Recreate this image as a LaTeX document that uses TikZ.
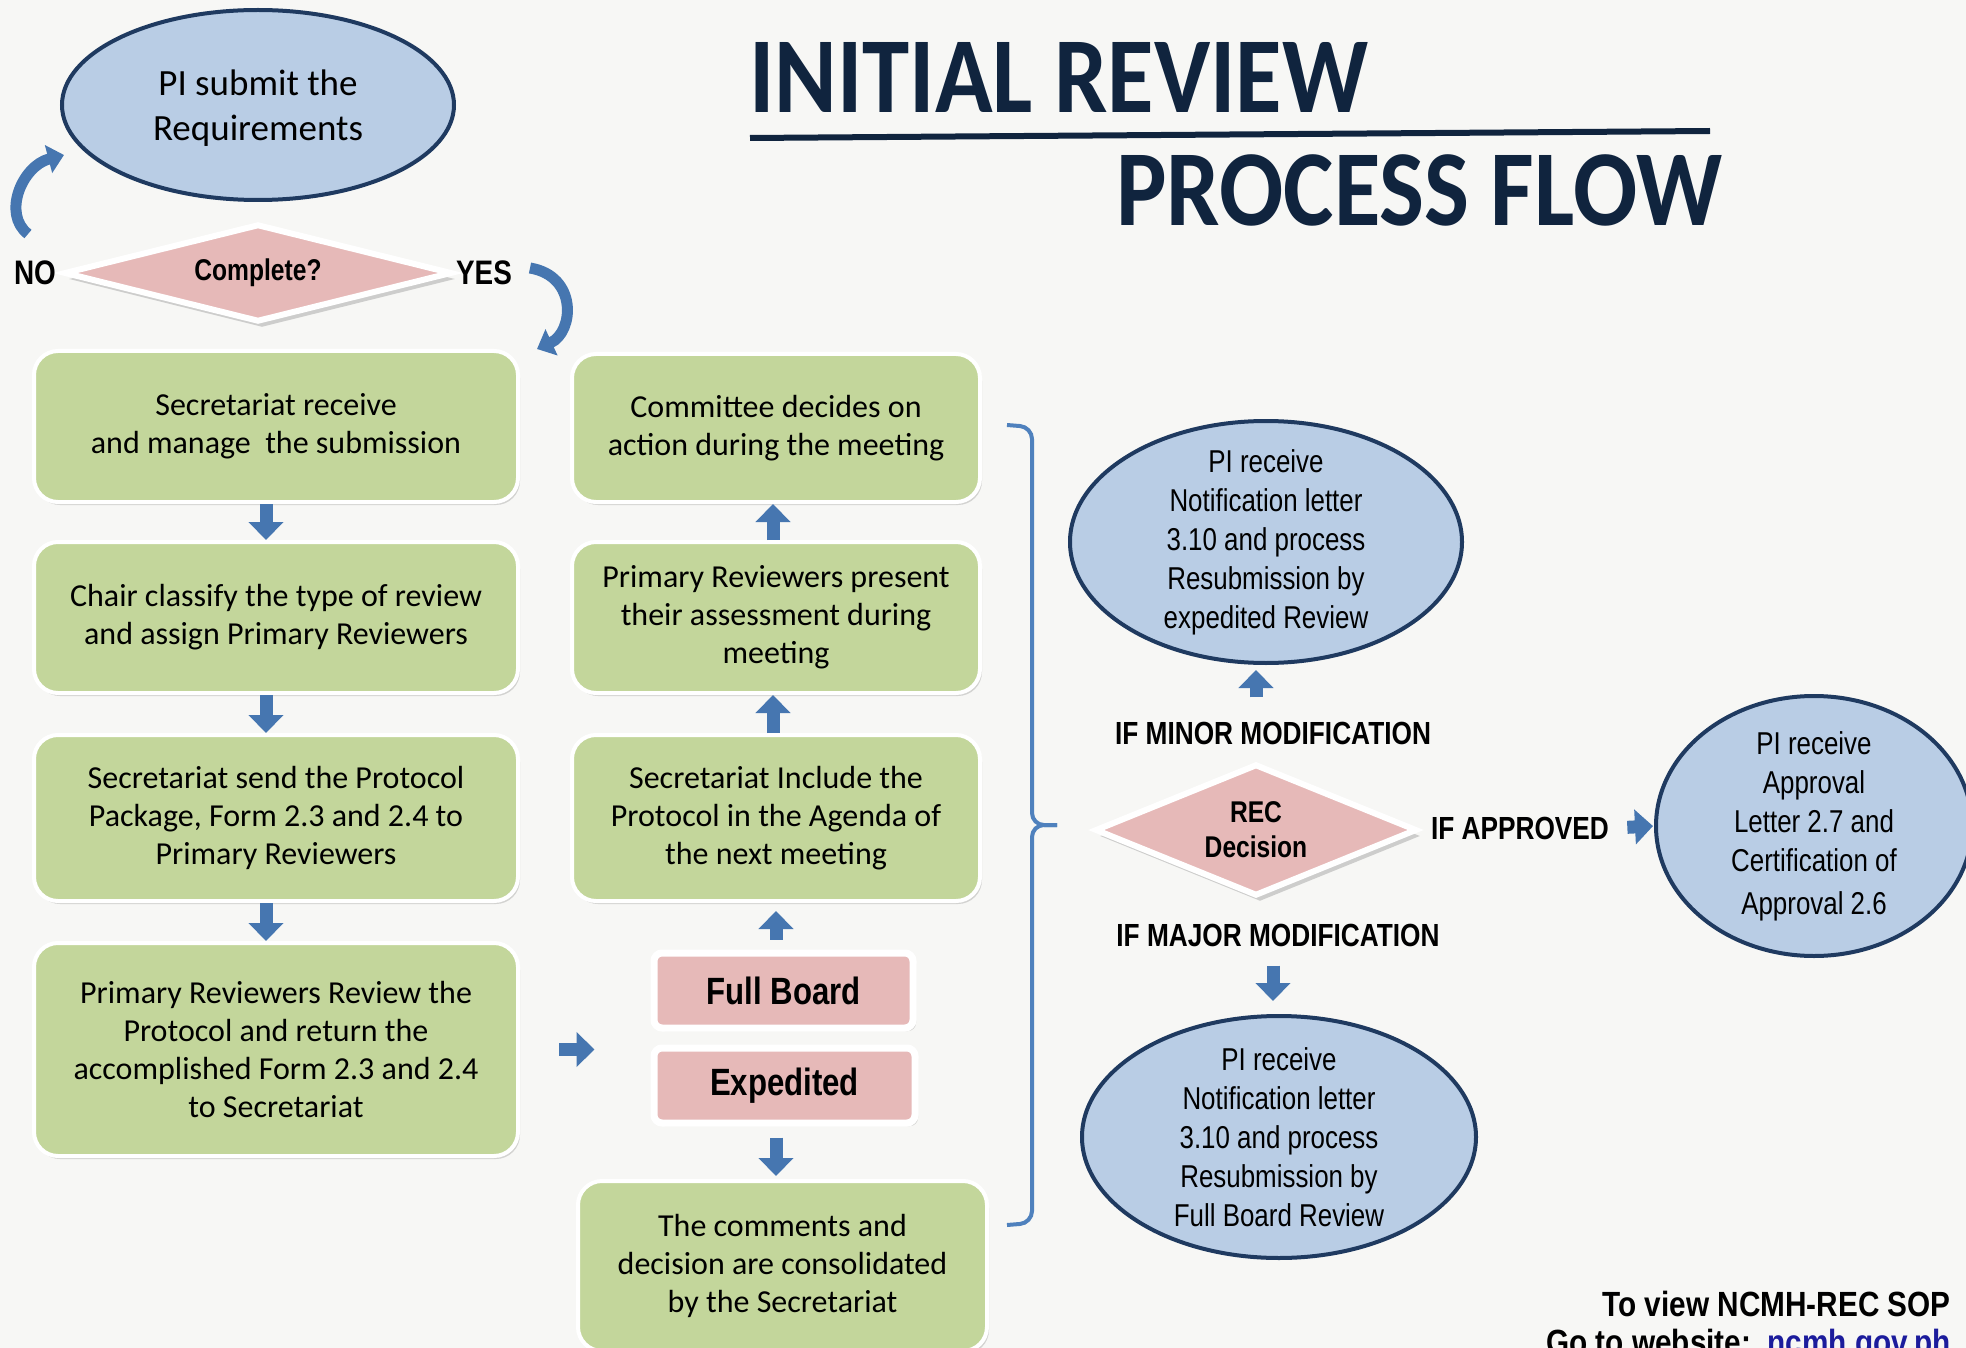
\documentclass[tikz,border=0pt]{standalone}
\usepackage{fontspec}
\setmainfont{Carlito}
\newfontfamily\narrowfont[FakeStretch=0.82]{Liberation Sans}
\newfontfamily\titlefont[FakeStretch=0.88]{Carlito}
\newfontfamily\sopfont[FakeStretch=0.85]{Liberation Sans}
\usetikzlibrary{shapes.geometric,arrows.meta,shadows}

\definecolor{bgpaper}{HTML}{F7F7F5}
\definecolor{boxgreen}{HTML}{C3D69B}
\definecolor{boxpink}{HTML}{E6B9B8}
\definecolor{ellblue}{HTML}{B9CDE5}
\definecolor{ellnavy}{HTML}{1F3A60}
\definecolor{arrowblue}{HTML}{4676B0}
\definecolor{bracketblue}{HTML}{4F81BD}
\definecolor{titlenavy}{HTML}{10243E}
\definecolor{linkblue}{HTML}{1C1C9C}

\tikzset{
  greenbox/.style={rectangle, rounded corners=12pt, fill=boxgreen, draw=white,
    line width=2pt, align=center, inner sep=0pt,
    font=\fontsize{16}{19}\selectfont,
    drop shadow={shadow xshift=1pt, shadow yshift=-1.5pt, opacity=0.3}},
  pinkbox/.style={rectangle, rounded corners=4pt, fill=boxpink, draw=white,
    line width=3.5pt, inner sep=0pt,
    font=\narrowfont\bfseries\fontsize{19}{22}\selectfont,
    drop shadow={shadow xshift=1.5pt, shadow yshift=-1.5pt, opacity=0.3}},
  decision/.style={diamond, fill=boxpink, draw=white, line width=3pt,
    inner sep=0pt, align=center,
    font=\narrowfont\bfseries\fontsize{15}{17.5}\selectfont,
    drop shadow={shadow xshift=2pt, shadow yshift=-3pt, opacity=0.35}},
  pinode/.style={ellipse, fill=ellblue, draw=ellnavy, line width=2pt,
    inner xsep=0pt, inner ysep=-10pt, align=center,
    font=\narrowfont\fontsize{15.8}{19.5}\selectfont},
  branch/.style={font=\narrowfont\bfseries\fontsize{16}{18}\selectfont, inner sep=2pt},
  blockarrow/.style={draw=arrowblue, line width=6.5pt, -{Triangle[width=17pt,length=9pt]}},
  curvearrow/.style={draw=arrowblue, line width=5.5pt, -{Triangle[width=14pt,length=8pt]}},
  bracket/.style={draw=bracketblue, line width=2pt, rounded corners=6pt},
}

\begin{document}
\begin{tikzpicture}[x=0.5pt,y=-0.5pt]
  \fill[bgpaper] (0,0) rectangle (1966,1348);
  \useasboundingbox (0,0) rectangle (1966,1348);

  % title
  \node[anchor=base west, inner sep=0pt, text=titlenavy,
    font=\titlefont\bfseries\fontsize{54}{60}\selectfont] (title1) at (749,113) {INITIAL REVIEW};
  \draw[line width=3pt, titlenavy] (750,138) -- (1710,131);
  \node[anchor=base west, inner sep=0pt, text=titlenavy,
    font=\titlefont\bfseries\fontsize{54}{60}\selectfont] (title2) at (1116,226) {PROCESS FLOW};

  % submission check
  \node[pinode, font=\fontsize{18.5}{22.6}\selectfont, minimum width=196pt, minimum height=95pt,
    text depth=-2pt] (submit) at (258,105) {PI submit the\\Requirements};
  \node[decision, shape aspect=4, minimum width=194pt, minimum height=49pt] (complete) at (258,273) {Complete?};
  \node[branch, font=\narrowfont\bfseries\fontsize{17}{18}\selectfont] (nolbl) at (35,273) {NO};
  \node[branch, font=\narrowfont\bfseries\fontsize{17}{18}\selectfont] (yeslbl) at (484,273) {YES};

  \coordinate (notail) at (28,234);
  \coordinate (nohead) at (64,155);
  \draw[curvearrow] (notail) .. controls (2,214) and (22,166) .. (nohead);
  \coordinate (yestail) at (530,268);
  \coordinate (yeshead) at (537,349);
  \draw[curvearrow] (yestail) .. controls (578,276) and (574,332) .. (yeshead);

  % left column
  \node[greenbox, minimum width=242pt, minimum height=75.5pt] (receive) at (276,426.5)
    {Secretariat receive\\and manage\ \ the submission};
  \node[greenbox, minimum width=242pt, minimum height=75.5pt] (classify) at (276,617.5)
    {Chair classify the type of review\\and assign Primary Reviewers};
  \node[greenbox, minimum width=242pt, minimum height=83pt] (send) at (276,818)
    {Secretariat send the Protocol\\Package, Form 2.3 and 2.4 to\\Primary Reviewers};
  \node[greenbox, minimum width=242pt, minimum height=106.5pt] (review) at (276,1049.5)
    {Primary Reviewers Review the\\Protocol and return the\\accomplished Form 2.3 and 2.4\\to Secretariat};

  \foreach \a/\b in {receive/classify, classify/send, send/review}
    \draw[blockarrow] ([xshift=-5pt]\a.south) -- ([xshift=-5pt]\b.north);

  % middle column
  \node[greenbox, minimum width=204pt, minimum height=74pt] (decide) at (776,428)
    {Committee decides on\\action during the meeting};
  \node[greenbox, minimum width=204pt, minimum height=75.5pt] (present) at (776,617.5)
    {Primary Reviewers present\\their assessment during\\meeting};
  \node[greenbox, minimum width=204pt, minimum height=83pt] (agenda) at (776,818)
    {Secretariat Include the\\Protocol in the Agenda of\\the next meeting};
  \node[pinkbox, minimum width=129.5pt, minimum height=37.5pt] (fullboard) at (783.5,990.5) {Full Board};
  \node[pinkbox, minimum width=130.5pt, minimum height=37.5pt] (expedited) at (784.5,1085.5) {Expedited};
  \node[greenbox, minimum width=204.5pt, minimum height=85pt] (consolidate) at (782.5,1266)
    {The comments and\\decision are consolidated\\by the Secretariat};

  \foreach \a/\b in {agenda/present, present/decide}
    \draw[blockarrow] ([xshift=-1.5pt]\a.north) -- ([xshift=-1.5pt]\b.south);
  \draw[blockarrow, shorten <=5pt, shorten >=4pt] (agenda.south |- fullboard.north) -- (agenda.south);
  \draw[blockarrow, shorten <=5.5pt, shorten >=1.5pt]
    (agenda.south |- expedited.south) -- (agenda.south |- consolidate.north);
  \draw[blockarrow, shorten <=19.5pt, shorten >=28pt] (review.east) -- (review.east -| fullboard.west);

  % bracket
  \coordinate (brtip) at (1057,825);
  \draw[bracket] (1007,425) -- (1032,427) -- (1032,825) -- (brtip);
  \draw[bracket] (brtip) -- (1032,825) -- (1032,1223) -- (1007,1225);

  % REC decision
  \node[pinode, minimum width=196pt, minimum height=121pt] (minor) at (1266,542)
    {PI receive\\Notification letter\\3.10 and process\\Resubmission by\\expedited Review};
  \node[branch] (minorlbl) at (1273,733) {IF MINOR MODIFICATION};
  \node[decision, shape aspect=2.4, minimum width=161pt, minimum height=66pt] (rec) at (1256,830) {REC\\Decision};
  \node[branch] (apprlbl) at (1520,828) {IF APPROVED};
  \node[pinode, minimum width=158pt, minimum height=130pt] (approval) at (1814,826)
    {PI receive\\Approval\\Letter 2.7 and\\Certification of\\[2pt]Approval 2.6};
  \node[branch] (majorlbl) at (1278,935) {IF MAJOR MODIFICATION};
  \node[pinode, minimum width=197pt, minimum height=121pt] (major) at (1279,1137)
    {PI receive\\Notification letter\\3.10 and process\\Resubmission by\\Full Board Review};

  \draw[blockarrow, shorten <=10pt, shorten >=2.5pt] (minorlbl.north -| rec.north) -- (minor.south -| rec.north);
  \draw[blockarrow, shorten <=7.5pt, shorten >=6.5pt] (majorlbl.south -| minorlbl.south) -- (major.north -| minorlbl.south);
  \draw[blockarrow, shorten <=7pt, shorten >=0.5pt] (apprlbl.east) -- (approval.west);

  % footer
  \node[anchor=base east, inner sep=0pt, font=\sopfont\bfseries\fontsize{17.5}{21}\selectfont]
    (sop) at (1951,1316) {To view NCMH-REC SOP};
  \node[anchor=base east, inner sep=0pt, font=\sopfont\bfseries\fontsize{17.5}{21}\selectfont]
    (site) at (1951,1354) {Go to website:\ \ \textcolor{linkblue}{ncmh.gov.ph}};
\end{tikzpicture}
\end{document}
